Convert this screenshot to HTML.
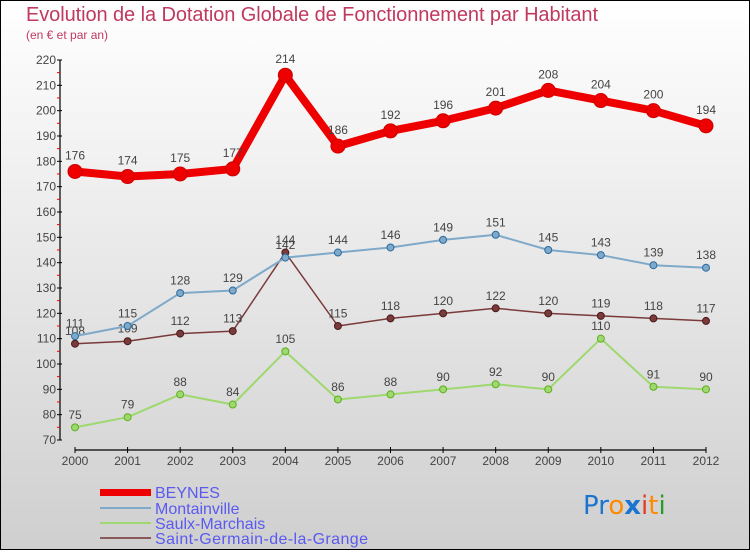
<!DOCTYPE html>
<html><head><meta charset="utf-8"><style>
html,body{margin:0;padding:0;}
body{width:750px;height:550px;overflow:hidden;font-family:"Liberation Sans",sans-serif;}
</style></head><body>
<svg width="750" height="550" xmlns="http://www.w3.org/2000/svg" font-family="Liberation Sans, sans-serif">
<defs><linearGradient id="bg" x1="0" y1="0" x2="0" y2="1"><stop offset="0" stop-color="#ffffff"/><stop offset="1" stop-color="#cfcfcf"/></linearGradient></defs>
<rect x="0.5" y="0.5" width="749" height="549" fill="url(#bg)" stroke="#000"/>
<text x="26" y="21" font-size="20" fill="#c0395f" textLength="572">Evolution de la Dotation Globale de Fonctionnement par Habitant</text>
<text x="26" y="39" font-size="12" fill="#c0395f">(en € et par an)</text>
<g id="axes"></g><g id="series"></g>
<g font-size="16" fill="#5a5af0">
<rect x="100" y="489" width="51" height="7" fill="#e00"/>
<text x="155" y="498">BEYNES</text>
<rect x="100" y="507" width="51" height="2" fill="#7fa9c9"/>
<text x="155" y="514">Montainville</text>
<rect x="100" y="522" width="51" height="2" fill="#9ed86e"/>
<text x="155" y="529">Saulx-Marchais</text>
<rect x="100" y="537" width="51" height="2" fill="#8a5a5a"/>
<text x="155" y="544" textLength="213">Saint-Germain-de-la-Grange</text>
</g>
<g font-size="26" font-family="DejaVu Sans, sans-serif">
<text x="583" y="514"><tspan fill="#1a74d0">Pr</tspan><tspan fill="#ff8a00">o</tspan><tspan fill="#1a74d0" font-weight="bold">x</tspan><tspan fill="#e53b1e">i</tspan><tspan fill="#ff8a00">t</tspan><tspan fill="#2a9a2a">i</tspan></text>
</g>
</svg>
<script>
const years=["2000","2001","2002","2003","2004","2005","2006","2007","2008","2009","2010","2011","2012"];
const yTicks=[70,80,90,100,110,120,130,140,150,160,170,180,190,200,210,220];
const beynes=[176,174,175,177,214,186,192,196,201,208,204,200,194];
const montainville=[111,115,128,129,142,144,146,149,151,145,143,139,138];
const saulx=[75,79,88,84,105,86,88,90,92,90,110,91,90];
const stgermain=[108,109,112,113,144,115,118,120,122,120,119,118,117];
const NS="http://www.w3.org/2000/svg";
function xS(i){return 75+i*(706-75)/12;}
function yS(v){return 60+(220-v)*380/150;}
function mk(tag,attrs,parent){const e=document.createElementNS(NS,tag);for(const k in attrs)e.setAttribute(k,attrs[k]);parent.appendChild(e);return e;}
const ax=document.getElementById('axes');
let yl=mk('line',{x1:60,y1:60,x2:60,y2:440,stroke:'#000','stroke-width':1.2},ax);


let xl=mk('line',{x1:75,y1:450,x2:706,y2:450,stroke:'#000','stroke-width':1.2},ax);


yTicks.forEach((v,k)=>{const y=yS(v);
 mk('line',{x1:57,y1:y,x2:62,y2:y,stroke:'#000'},ax);
 if(k<yTicks.length-1) mk('line',{x1:57,y1:y-12.7,x2:60,y2:y-12.7,stroke:'#e00'},ax);
 const t=mk('text',{x:56,y:y+4,'font-size':12,fill:'#444','text-anchor':'end'},ax);t.textContent=v;
 
 
});
years.forEach((yr,i)=>{const x=xS(i);
 mk('line',{x1:x,y1:447,x2:x,y2:453,stroke:'#000'},ax);
 const t=mk('text',{x:x,y:465,'font-size':12,fill:'#444','text-anchor':'middle'},ax);t.textContent=yr;
 
 
});
const sg=document.getElementById('series');
function draw(data,color,w,r,name,dark){
 const g=mk('g',{},sg);
 
 
 const pts=data.map((v,i)=>xS(i)+','+yS(v)).join(' ');
 mk('polyline',{points:pts,fill:'none',stroke:color,'stroke-width':w,'stroke-linejoin':'round'},g);
 data.forEach((v,i)=>{
  const c=mk('circle',{cx:xS(i),cy:yS(v),r:r,fill:color,stroke:dark,'stroke-width':1},g);
  
  
  const t=mk('text',{x:xS(i),y:yS(v)-(r+5),'font-size':12,fill:'#444','text-anchor':'middle'},g);t.textContent=v;
  
  
 });
}
draw(saulx,'#9ed86e',2,3.5,'saulx-marchais','#5ab01e');
draw(stgermain,'#7a3a3a',1.5,3.5,'saint-germain','#4a1a1a');
draw(montainville,'#7fa9c9',2,3.5,'montainville','#2a6aa0');
draw(beynes,'#ee0000',8,7,'beynes','#cc0000');
</script>
</body></html>
